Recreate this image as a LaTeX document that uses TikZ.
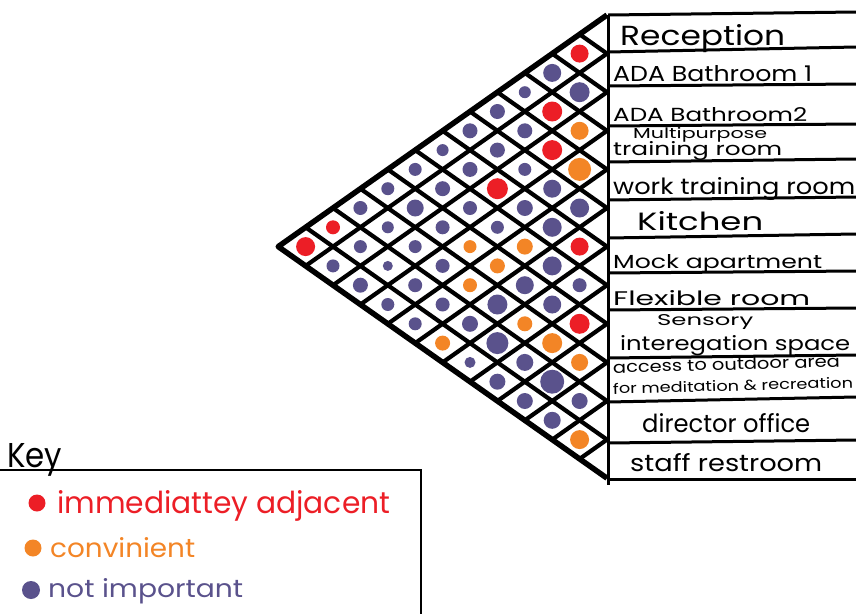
\documentclass[tikz,border=0pt]{standalone}
\usepackage{fontspec}
\setmainfont{Poppins}
\usepackage{graphicx}
\definecolor{adjred}{RGB}{236,30,38}
\definecolor{convorange}{RGB}{243,133,38}
\definecolor{nipurple}{RGB}{90,82,140}
\newcommand{\lab}[3]{\resizebox{#1pt}{#2pt}{#3}}
\begin{document}
\begin{tikzpicture}[x=1pt,y=-1pt,
  gridline/.style={line width=4.2pt,black},
  outerline/.style={line width=5.5pt,black,line join=round},
  tabline/.style={line width=3pt,black},
  dotc/.style={circle,inner sep=0pt,draw=none},
  roomlabel/.style={anchor=base west,inner sep=0pt,text=black},
  keylabel/.style={anchor=base west,inner sep=0pt}]
\useasboundingbox (0,0) rectangle (856,614);
\def\xo{607}\def\ya{15}\def\hh{38.6}\def\aa{27.4}
% grid
\foreach \k in {1,...,11}{
  \draw[gridline] (\xo,{\ya+\k*\hh}) -- ++({-(12-\k)*\aa},{(12-\k)*\hh/2});
  \draw[gridline] (\xo,{\ya+\k*\hh}) -- ++({-\k*\aa},{-\k*\hh/2});
}
\coordinate (gtop) at (\xo,\ya);
\coordinate (gbot) at (\xo,{\ya+12*\hh});
\coordinate (gtip) at ({\xo-12*\aa},{\ya+6*\hh});
\draw[outerline] (gtop) -- (gtip) -- (gbot);
% dots
\foreach \i/\j/\c/\r in {
 0/1/adjred/9,0/2/nipurple/9,0/3/nipurple/6,0/4/nipurple/7.5,0/5/nipurple/7.5,0/6/nipurple/6,0/7/nipurple/6.5,0/8/nipurple/6.5,0/9/nipurple/7,0/10/adjred/7,0/11/adjred/9.5,
 1/2/nipurple/10,1/3/adjred/10,1/4/nipurple/7.5,1/5/nipurple/7.5,1/6/nipurple/7.5,1/7/nipurple/7.5,1/8/nipurple/8.5,1/9/nipurple/6,1/10/nipurple/6.5,1/11/nipurple/6.5,
 2/3/convorange/9,2/4/adjred/10,2/5/nipurple/6.5,2/6/adjred/10.5,2/7/nipurple/7,2/8/nipurple/7,2/9/nipurple/6.5,2/10/nipurple/5,2/11/nipurple/7.5,
 3/4/convorange/11.5,3/5/nipurple/9,3/6/nipurple/8,3/7/nipurple/6.5,3/8/convorange/6.5,3/9/nipurple/7,3/10/nipurple/7,3/11/nipurple/6.5,
 4/5/nipurple/9.5,4/6/nipurple/9.5,4/7/convorange/8,4/8/convorange/7.5,4/9/convorange/7,4/10/nipurple/7,4/11/nipurple/6.5,
 5/6/adjred/9,5/7/nipurple/9.5,5/8/nipurple/9,5/9/nipurple/10,5/10/nipurple/8,5/11/convorange/7.5,
 6/7/nipurple/7,6/8/nipurple/9,6/9/convorange/7.5,6/10/nipurple/11,6/11/nipurple/5.5,
 7/8/adjred/10,7/9/convorange/10,7/10/nipurple/8.5,7/11/nipurple/8,
 8/9/convorange/8.5,8/10/nipurple/12,8/11/nipurple/8,
 9/10/nipurple/8,9/11/nipurple/8.5,
 10/11/convorange/9.5}{
  \node[dotc,fill=\c,minimum size=\r*2pt] (d\i-\j) at ({\xo-(\j-\i)*\aa},{\ya+(\i+\j+1)*\hh/2}) {};
}
% label table
\draw[tabline] (608,15) -- (608,485);
\foreach \yl/\yr in {15/12,52/47,86/84,126/124,162/159,200/197,238/234,273/271,310/308,358/355,402/397,443/440,479/479}{
  \draw[tabline] (608,\yl) -- (856,\yr);
}
\node[roomlabel] (r0) at (620,45) {\lab{165}{21}{Reception}};
\node[roomlabel] (r1) at (613,81) {\lab{199}{16}{ADA Bathroom 1}};
\node[roomlabel] (r2) at (613,121) {\lab{194}{14}{ADA Bathroom2}};
\node[roomlabel] (r3a) at (633,138) {\lab{134}{11}{Multipurpose}};
\node[roomlabel] (r3b) at (613,155) {\lab{169}{14}{training room}};
\node[roomlabel] (r4) at (613,194) {\lab{242}{17}{work training room}};
\node[roomlabel] (r5) at (637,230) {\lab{126}{19}{Kitchen}};
\node[roomlabel] (r6) at (613,268) {\lab{209}{14}{Mock apartment}};
\node[roomlabel] (r7) at (613,305) {\lab{197}{15}{Flexible room}};
\node[roomlabel] (r8a) at (657,325) {\lab{96}{11}{Sensory}};
\node[roomlabel] (r8b) at (620,350) {\lab{230}{15}{interegation space}};
\node[roomlabel,rotate=1.5] (r9a) at (613,373) {\lab{227}{12}{access to outdoor area}};
\node[roomlabel,rotate=1.5] (r9b) at (613,394) {\lab{240}{11}{for meditation \& recreation}};
\node[roomlabel] (r10) at (642,432) {\lab{168}{19}{director office}};
\node[roomlabel] (r11) at (630,471) {\lab{192}{18}{staff restroom}};
% key
\node[keylabel] (keyt) at (7,467) {\lab{55}{24}{Key}};
\draw[line width=2.5pt] (0,470) -- (421,470) -- (421,614);
\node[dotc,fill=adjred,minimum size=17pt] (k1) at (37,503) {};
\node[keylabel,text=adjred] (k1t) at (57,513) {\lab{333}{23}{immediattey adjacent}};
\node[dotc,fill=convorange,minimum size=17pt] (k2) at (33,548) {};
\node[keylabel,text=convorange] (k2t) at (50,557) {\lab{145}{20}{convinient}};
\node[dotc,fill=nipurple,minimum size=18pt] (k3) at (31,590) {};
\node[keylabel,text=nipurple] (k3t) at (48,597) {\lab{195}{19}{not important}};
\end{tikzpicture}
\end{document}
